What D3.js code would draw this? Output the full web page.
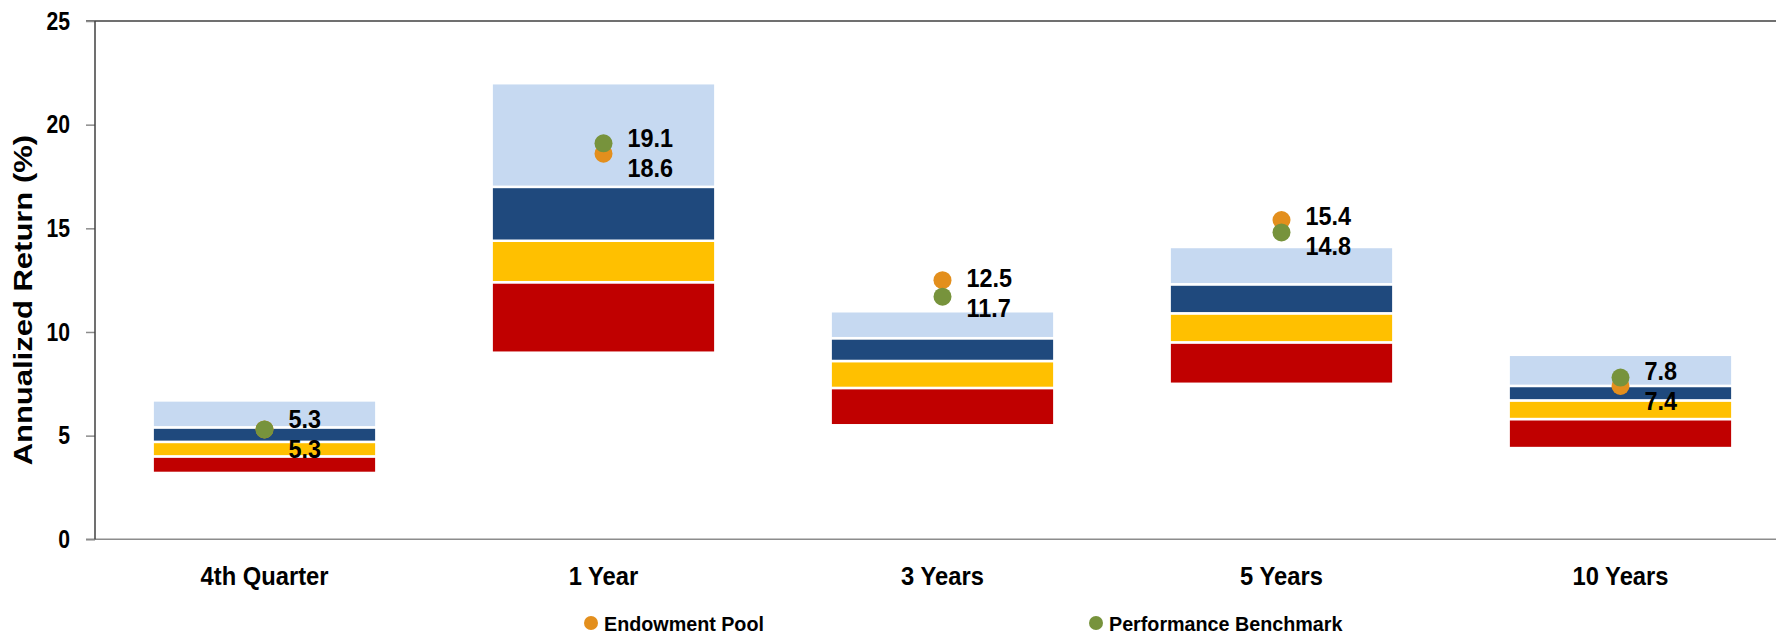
<!DOCTYPE html>
<html>
<head>
<meta charset="utf-8">
<script src="https://cdn.jsdelivr.net/npm/d3@7"></script>
<style>
  body { margin: 0; background: #fff; }
  text { font-family: "Liberation Sans", Arial, sans-serif; font-weight: bold; fill: #000; }
</style>
</head>
<body>
<div class="canvas"></div>
<script>
// categories and percentile ranges of the peer universe
const categories = ['4th Quarter', '1 Year', '3 Years', '5 Years', '10 Years'];
const p5  = [3.2,  9.0, 5.5,  7.5, 4.4];
const p25 = [4.0, 12.4, 7.3,  9.5, 5.8];
const p50 = [4.7, 14.4, 8.6, 10.9, 6.7];
const p75 = [5.4, 17.0, 9.7, 12.3, 7.4];
const p95 = [6.7, 22.0, 11.0, 14.1, 8.9];

// the two return series
const seriesNames = ['Endowment Pool', 'Performance Benchmark'];
const endowment = [5.3, 18.6, 12.5, 15.4, 7.4];
const benchmark = [5.3, 19.1, 11.7, 14.8, 7.8];

const yTicks = [0, 5, 10, 15, 20, 25];

const dims = { width: 1776, height: 635 };
const plot = { left: 95, right: 1790, top: 21, bottom: 539.3 };

// squeeze text horizontally around its x anchor (narrow face look)
const squeeze = (sel, k) => {
  sel.each(function() {
    const t = d3.select(this);
    const x0 = +t.attr('x') || 0;
    t.attr('transform', `translate(${x0},0) scale(${k},1) translate(${-x0},0)`);
  });
};

const svg = d3.select('.canvas')
  .append('svg')
  .attr('width', dims.width)
  .attr('height', dims.height);

// scales
const x = d3.scaleBand()
  .domain(categories)
  .range([plot.left, plot.right])
  .paddingInner(0.34)
  .paddingOuter(0.17);

const y = d3.scaleLinear()
  .domain([0, 25])
  .range([plot.bottom, plot.top]);

// range segments, bottom to top
const bandColours = ['#c00000', '#ffc000', '#1f497d', '#c6d9f1'];
const bounds = [p5, p25, p50, p75, p95];
const segments = [];
categories.forEach((c, i) => {
  for (let k = 0; k < 4; k++) {
    segments.push({ cat: c, lo: bounds[k][i], hi: bounds[k + 1][i], colour: bandColours[k] });
  }
});

// frame lines
svg.append('line')
  .attr('x1', plot.left - 9).attr('x2', dims.width)
  .attr('y1', y(25)).attr('y2', y(25))
  .attr('stroke', '#404040').attr('stroke-width', 1.5);

svg.append('line')
  .attr('x1', plot.left - 9).attr('x2', dims.width)
  .attr('y1', y(0)).attr('y2', y(0))
  .attr('stroke', '#8c8c8c').attr('stroke-width', 1.5);

// y axis
const yAxis = d3.axisLeft(y)
  .tickValues(yTicks)
  .tickSize(9)
  .tickPadding(16);

const yAxisGroup = svg.append('g')
  .attr('transform', `translate(${plot.left},0)`)
  .call(yAxis);
yAxisGroup.select('.domain').remove();
yAxisGroup.selectAll('line').attr('stroke', '#8c8c8c').attr('stroke-width', 1.5);
yAxisGroup.selectAll('text')
  .style('font-size', '25.5px')
  .attr('fill', '#000')
  .call(squeeze, 0.83);

svg.append('line')
  .attr('x1', plot.left).attr('x2', plot.left)
  .attr('y1', y(25)).attr('y2', y(0))
  .attr('stroke', '#404040').attr('stroke-width', 1.5);

// y axis title
svg.append('text')
  .attr('transform', `translate(32,${(y(0) + y(25)) / 2 + 20}) rotate(-90) scale(1,0.82)`)
  .attr('text-anchor', 'middle')
  .style('font-size', '31px')
  .text('Annualized Return (%)');

// x axis
const xAxis = d3.axisBottom(x)
  .tickSize(0);

const xAxisGroup = svg.append('g')
  .attr('transform', `translate(0,${plot.bottom})`)
  .call(xAxis);
xAxisGroup.select('.domain').remove();
xAxisGroup.selectAll('text')
  .attr('y', 46)
  .attr('dy', 0)
  .style('font-size', '25px')
  .attr('fill', '#000')
  .call(squeeze, 0.95);

// floating range bars
svg.append('g').selectAll('rect')
  .data(segments)
  .enter()
  .append('rect')
    .attr('x', d => x(d.cat))
    .attr('width', x.bandwidth())
    .attr('y', d => y(d.hi))
    .attr('height', d => y(d.lo) - y(d.hi))
    .attr('fill', d => d.colour)
    .attr('stroke', '#fff')
    .attr('stroke-width', 2.5);

// points (benchmark drawn over endowment)
const dotColours = ['#e38f1d', '#77933c'];
const series = [endowment, benchmark];
series.forEach((s, k) => {
  svg.append('g').selectAll('circle')
    .data(s)
    .enter()
    .append('circle')
      .attr('cx', (d, i) => x(categories[i]) + x.bandwidth() / 2)
      .attr('cy', d => y(d))
      .attr('r', 9)
      .attr('fill', dotColours[k]);
});

// value labels: higher value above, lower below, kept apart
const labels = [];
categories.forEach((c, i) => {
  const hi = Math.max(endowment[i], benchmark[i]);
  const lo = Math.min(endowment[i], benchmark[i]);
  const mid = (y(hi) + y(lo)) / 2 + 4;
  const gap = Math.max(30, y(lo) - y(hi));
  labels.push({ cat: c, v: hi, cy: mid - gap / 2 });
  labels.push({ cat: c, v: lo, cy: mid + gap / 2 });
});

svg.append('g').selectAll('text')
  .data(labels)
  .enter()
  .append('text')
    .attr('x', d => x(d.cat) + x.bandwidth() / 2 + 24)
    .attr('y', d => d.cy)
    .attr('dy', '0.36em')
    .style('font-size', '26px')
    .text(d => d3.format('.1f')(d.v))
    .call(squeeze, 0.9);

// legend
const legendX = [591, 1096];
const legend = svg.append('g')
  .attr('transform', `translate(0,623)`);

seriesNames.forEach((name, k) => {
  legend.append('circle')
    .attr('cx', legendX[k])
    .attr('cy', 0)
    .attr('r', 7)
    .attr('fill', dotColours[k]);
  legend.append('text')
    .attr('x', legendX[k] + 13)
    .attr('y', 0)
    .attr('dy', '0.36em')
    .style('font-size', '21px')
    .text(name)
    .call(squeeze, 0.94);
});
</script>
</body>
</html>
